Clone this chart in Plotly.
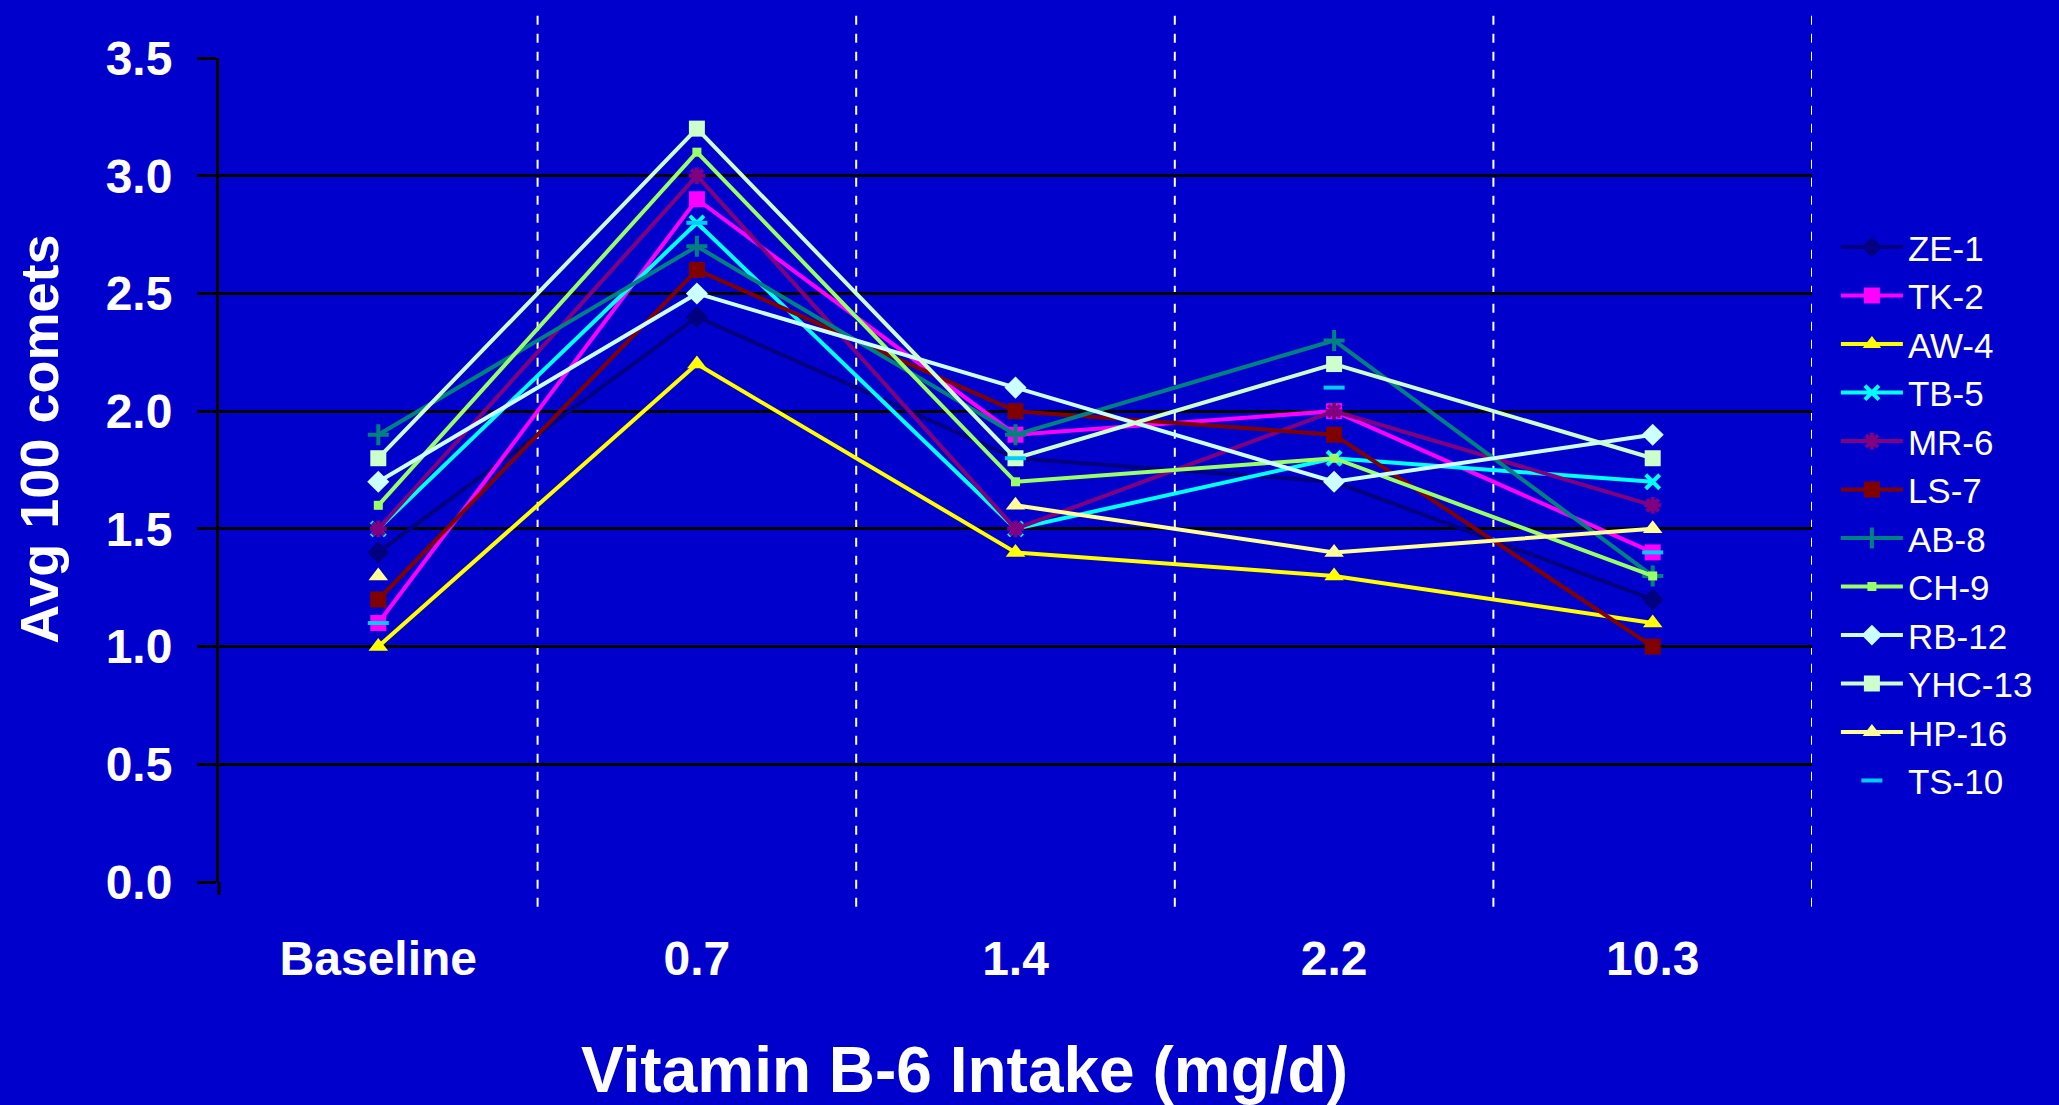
import plotly.graph_objects as go

categories = ["Baseline", "0.7", "1.4", "2.2", "10.3"]
y_ticks = [0.0, 0.5, 1.0, 1.5, 2.0, 2.5, 3.0, 3.5]

ze1 = [1.4, 2.4, 1.8, 1.7, 1.2]
tk2 = [1.1, 2.9, 1.9, 2.0, 1.4]
aw4 = [1.0, 2.2, 1.4, 1.3, 1.1]
tb5 = [1.5, 2.8, 1.5, 1.8, 1.7]
mr6 = [1.5, 3.0, 1.5, 2.0, 1.6]
ls7 = [1.2, 2.6, 2.0, 1.9, 1.0]
ab8 = [1.9, 2.7, 1.9, 2.3, 1.3]
ch9 = [1.6, 3.1, 1.7, 1.8, 1.3]
rb12 = [1.7, 2.5, 2.1, 1.7, 1.9]
yhc13 = [1.8, 3.2, 1.8, 2.2, 1.8]
hp16 = [1.3, None, 1.6, 1.4, 1.5]
ts10 = [1.1, 2.8, 1.8, 2.1, 1.4]

FONT = "Liberation Sans, Arial, sans-serif"
BG = "#0000CC"

# name, values, colour, marker symbol, marker size, mode
series = [
    ("ZE-1", ze1, "#000080", "diamond", 17, "lines+markers"),
    ("TK-2", tk2, "#FF00FF", "square", 16, "lines+markers"),
    ("AW-4", aw4, "#FFFF00", "triangle-up", 17, "lines+markers"),
    ("TB-5", tb5, "#00FFFF", "x-thin-open", 14, "lines+markers"),
    ("MR-6", mr6, "#800080", "asterisk-open", 14, "lines+markers"),
    ("LS-7", ls7, "#800000", "square", 16, "lines+markers"),
    ("AB-8", ab8, "#008080", "cross-thin-open", 15, "lines+markers"),
    ("CH-9", ch9, "#99FF66", "square", 9, "lines+markers"),
    ("RB-12", rb12, "#CCFFFF", "diamond", 17, "lines+markers"),
    ("YHC-13", yhc13, "#CCFFCC", "square", 16, "lines+markers"),
    ("HP-16", hp16, "#FFFF99", "triangle-up", 17, "lines+markers"),
    ("TS-10", ts10, "#00CCFF", "line-ew-open", 15, "markers"),
]

fig = go.Figure()
for name, vals, col, sym, size, mode in series:
    fig.add_trace(go.Scatter(
        x=categories, y=vals, name=name, mode=mode,
        line=dict(color=col, width=4),
        marker=dict(symbol=sym, size=size, color=col,
                    line=dict(color=col, width=4 if "open" in sym else 0)),
        connectgaps=False,
    ))

# dashed white separators between categories, running past the plot area
for i in range(len(categories)):
    fig.add_shape(type="line", xref="x", yref="paper",
                  x0=i + 0.5, x1=i + 0.5, y0=-0.03, y1=1.052,
                  line=dict(color="white", width=2, dash="dash"), layer="below")
# y axis line runs a little below zero in the original
fig.add_shape(type="line", xref="paper", yref="paper", x0=0, x1=0, y0=-0.016, y1=0,
              line=dict(color="black", width=3))

# axis titles as annotations (they sit off-centre in the original)
fig.add_annotation(text="Vitamin B-6 Intake (mg/d)", xref="paper", yref="paper",
                   x=0.468, y=-0.228, xanchor="center", yanchor="middle", showarrow=False,
                   font=dict(size=64, color="white", family=FONT, weight="bold"))
fig.add_annotation(text="Avg 100 comets", xref="paper", yref="paper",
                   x=-0.113, y=0.538, xanchor="center", yanchor="middle",
                   textangle=-90, showarrow=False,
                   font=dict(size=54, color="white", family=FONT, weight="bold"))

fig.update_layout(
    width=2059, height=1105,
    paper_bgcolor=BG, plot_bgcolor=BG,
    margin=dict(l=219, r=247, t=58, b=223),
    font=dict(family=FONT, color="white"),
    showlegend=True,
    legend=dict(x=1.015, y=0.806, xanchor="left", yanchor="top",
                bgcolor="rgba(0,0,0,0)", font=dict(size=35, color="white"),
                itemwidth=62, traceorder="normal"),
)
fig.update_xaxes(
    type="category", range=[-0.5, 4.5], showgrid=False, zeroline=False,
    showline=False, ticks="", ticklabelstandoff=44,
    tickfont=dict(size=48, color="white", family=FONT, weight="bold"),
)
fig.update_yaxes(
    range=[0, 3.5], tickvals=y_ticks, ticktext=[f"{v:.1f}" for v in y_ticks],
    showgrid=True, gridcolor="black", gridwidth=3, zeroline=False,
    showline=True, linecolor="black", linewidth=3,
    ticks="outside", ticklen=19, tickwidth=3, tickcolor="black",
    ticklabelstandoff=15,
    tickfont=dict(size=48, color="white", family=FONT, weight="bold"),
)

fig.write_html("out.html", config={"displayModeBar": False},
               post_script="document.body.style.margin='0';"
                           "document.body.style.background='#0000CC';")
